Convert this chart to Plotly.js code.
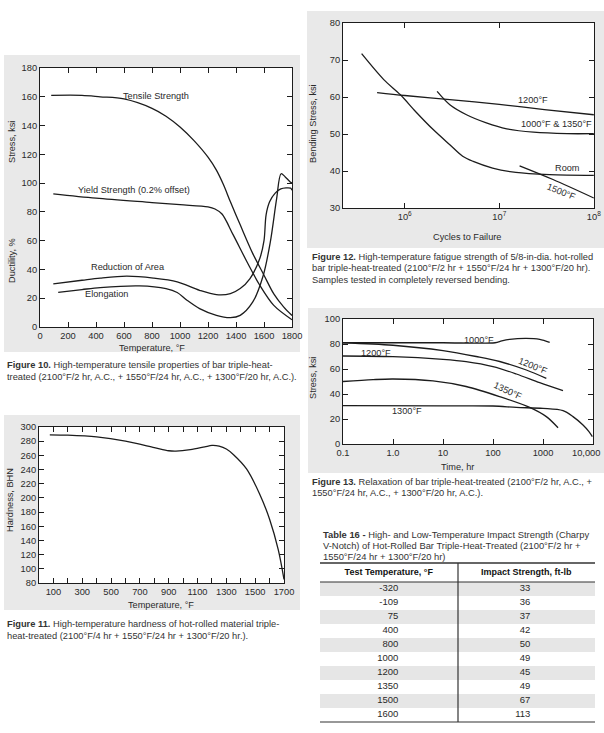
<!DOCTYPE html>
<html>
<head>
<meta charset="utf-8">
<script src="https://cdn.plot.ly/plotly-3.0.1.min.js"></script>
<style>html,body{margin:0;padding:0;background:#fff;}#chart{width:604px;height:733px;}</style>
</head>
<body>
<div id="chart"></div>
<script>
// ---------- Figure 10: tensile properties ----------
var f10TensileT = [80, 300, 430, 600, 800, 900, 1000, 1100, 1200, 1260, 1310, 1360, 1430, 1520, 1600, 1670, 1740, 1800];
var f10Tensile  = [161, 161, 160, 158.5, 152, 146.5, 139, 129.5, 118, 109, 99, 87, 71, 51, 36, 23, 14, 8];
var f10YieldT = [95, 400, 800, 1000, 1200, 1250, 1300, 1380, 1480, 1570, 1670, 1800];
var f10Yield  = [92.5, 89.5, 86.5, 85, 83.5, 82, 78.5, 64, 45, 29, 15, 5];
var f10RAT = [95, 300, 430, 620, 810, 980, 1140, 1260, 1360, 1430, 1500, 1570, 1600, 1615, 1640, 1680, 1720, 1790, 1800];
var f10RA  = [30, 32.5, 34, 35.3, 34, 31.4, 25.5, 22.5, 23.2, 26.7, 33.7, 47.6, 60, 78, 87, 93, 96, 96.5, 95];
var f10ElT = [130, 300, 430, 710, 900, 980, 1050, 1140, 1260, 1360, 1430, 1520, 1595, 1645, 1690, 1722, 1750, 1785, 1800];
var f10El  = [24, 26, 27.4, 28.6, 26.7, 24, 18.6, 12.8, 8.1, 6.5, 8.1, 17.4, 36, 59, 89, 106.5, 104.5, 101, 100];

// ---------- Figure 12: fatigue strength ----------
var f12RoomN = [3.5e5, 6e5, 9e5, 1.3e6, 2e6, 3e6, 4.1e6, 5.3e6, 8.5e6, 1.5e7, 3.4e7, 1e8];
var f12Room  = [71.7, 64.7, 60.6, 56.1, 51.2, 47.1, 44, 42.6, 40.8, 39.6, 39, 38.8];
var f12T1200N = [5.1e5, 1e6, 3e6, 1e7, 3e7, 1e8];
var f12T1200  = [61.2, 60.4, 59.3, 58, 56.6, 55.2];
var f12T1000N = [2.2e6, 3e6, 4.5e6, 7.3e6, 1.2e7, 2.3e7, 5.2e7, 1e8];
var f12T1000  = [61.5, 57.9, 55.2, 53, 51.4, 50.5, 50.1, 50.1];
var f12T1500N = [1.64e7, 3.7e7, 1e8];
var f12T1500  = [41.4, 37.7, 32.7];

// ---------- Figure 13: relaxation ----------
var f13T1000t = [0.1, 1, 10, 110, 150, 215, 460, 860, 1360];
var f13T1000  = [81, 81, 81, 81, 82.5, 83.7, 84.5, 83.7, 81.3];
var f13T1200at = [0.1, 1, 10, 46, 136, 464, 1166];
var f13T1200a  = [81, 79, 74.7, 70, 66, 59.2, 52.5];
var f13T1200bt = [0.1, 1, 10, 29, 100, 293, 858, 2512];
var f13T1200b  = [70.4, 69.9, 67.7, 65.9, 61.9, 56, 49.1, 42.7];
var f13T1350t = [0.1, 0.4, 1, 6.3, 29, 136, 541, 1166, 2000];
var f13T1350  = [50, 51.5, 52, 50.5, 46, 37.9, 29.3, 21.9, 13];
var f13T1300t = [0.1, 10, 100, 293, 1000, 2512, 3981, 6310, 8300, 9700];
var f13T1300  = [30.7, 30.5, 30.4, 29.3, 28.5, 26.7, 21.9, 15.2, 9.9, 5.9];
var f13TickVals = [0.1, 1, 10, 100, 1000];
var f13TickText = ['0.1', '1.0', '10', '100', '1000'];
var f13LastTick = 10000;
var f13LastTickText = '10,000';

// ---------- Figure 11: hardness ----------
var f11Temp = [75, 200, 400, 600, 800, 900, 950, 1050, 1150, 1200, 1250, 1300, 1350, 1440, 1530, 1600, 1660, 1700];
var f11BHN  = [289, 288.5, 286, 280, 271, 266.5, 266, 268, 272, 274, 273, 269, 261, 241, 206, 170, 127, 85];
var f11TickVals = [100, 300, 500, 700, 900, 1100, 1300, 1500, 1700];

// ---------- Table 16 ----------
var t16Header = ['Test Temperature, °F', 'Impact Strength, ft-lb'];
var t16Temp   = ['-320', '-109', '75', '400', '800', '1000', '1200', '1350', '1500', '1600'];
var t16Impact = ['33', '36', '37', '42', '50', '49', '45', '49', '67', '113'];

// ---------- helpers ----------
var W = 604, H = 733;
function px(x) { return x / W; }
function py(y) { return 1 - y / H; }
var FONT = 'Liberation Sans, Arial, Helvetica, sans-serif';
var INK = '#1c1c1c';
var TXT = '#2a2a2a';
var PANEL = '#e9e9e9';

function line(x, y, xa, ya) {
  return {type: 'scatter', mode: 'lines', x: x, y: y, xaxis: xa, yaxis: ya,
          line: {color: INK, width: 1.3, shape: 'spline', smoothing: 0.9},
          hoverinfo: 'skip', showlegend: false};
}
function ax(extra) {
  return Object.assign({
    showline: true, linecolor: INK, linewidth: 1, mirror: 'ticks',
    ticks: 'inside', ticklen: 5, tickwidth: 1, tickcolor: INK,
    showgrid: false, zeroline: false, fixedrange: true,
    tickfont: {family: FONT, size: 9.3, color: TXT}
  }, extra);
}

var traces = [
  line(f10TensileT, f10Tensile, 'x', 'y'),
  line(f10YieldT, f10Yield, 'x', 'y'),
  line(f10RAT, f10RA, 'x', 'y'),
  line(f10ElT, f10El, 'x', 'y'),
  line(f12RoomN, f12Room, 'x2', 'y2'),
  line(f12T1200N, f12T1200, 'x2', 'y2'),
  line(f12T1000N, f12T1000, 'x2', 'y2'),
  line(f12T1500N, f12T1500, 'x2', 'y2'),
  line(f13T1000t, f13T1000, 'x3', 'y3'),
  line(f13T1200at, f13T1200a, 'x3', 'y3'),
  line(f13T1200bt, f13T1200b, 'x3', 'y3'),
  line(f13T1350t, f13T1350, 'x3', 'y3'),
  line(f13T1300t, f13T1300, 'x3', 'y3'),
  line(f11Temp, f11BHN, 'x4', 'y4')
];

// ---------- table drawn on a hidden cartesian subplot (x5/y5) ----------
var rowIdx = t16Temp.map(function (_, i) { return i; });
var shadedRows = rowIdx.filter(function (i) { return i % 2 === 0; });
var HEADER_ROWS = 19 / 14;          // header row height in body-row units
traces.push({
  type: 'bar', orientation: 'h', xaxis: 'x5', yaxis: 'y5',
  y: shadedRows, x: shadedRows.map(function () { return 2; }), base: 0, width: 1,
  marker: {color: '#e6e6e6', line: {width: 0}}, hoverinfo: 'skip', showlegend: false
});
traces.push({
  type: 'scatter', mode: 'text', xaxis: 'x5', yaxis: 'y5', cliponaxis: false,
  x: [0.5, 1.5], y: [-0.5 - HEADER_ROWS / 2, -0.5 - HEADER_ROWS / 2],
  text: t16Header.map(function (h) { return '<b>' + h + '</b>'; }),
  textposition: 'middle center', textfont: {family: FONT, size: 9, color: '#111'},
  hoverinfo: 'skip', showlegend: false
});
traces.push({
  type: 'scatter', mode: 'text', xaxis: 'x5', yaxis: 'y5', cliponaxis: false,
  x: rowIdx.map(function () { return 0.57; }), y: rowIdx, text: t16Temp,
  textposition: 'middle left', textfont: {family: FONT, size: 9.5, color: TXT},
  hoverinfo: 'skip', showlegend: false
});
traces.push({
  type: 'scatter', mode: 'text', xaxis: 'x5', yaxis: 'y5', cliponaxis: false,
  x: rowIdx.map(function () { return 1.53; }), y: rowIdx, text: t16Impact,
  textposition: 'middle left', textfont: {family: FONT, size: 9.5, color: TXT},
  hoverinfo: 'skip', showlegend: false
});

function ann(text, x, y, xref, yref, opts) {
  return Object.assign({text: text, x: x, y: y, xref: xref, yref: yref, showarrow: false,
    font: {family: FONT, size: 9.2, color: TXT}, xanchor: 'center', yanchor: 'middle'}, opts || {});
}
// caption: one annotation per line, lines centred at y0, y0+step, ...
function cap(lines, x, y0, step, size) {
  return lines.map(function (t, i) {
    return ann(t, px(x), py(y0 + i * step), 'paper', 'paper',
      {xanchor: 'left', yanchor: 'middle', align: 'left', font: {family: FONT, size: size || 9.3, color: '#333'}});
  });
}

var annotations = [
  // Figure 10
  ann('Tensile Strength', 826, 160.5, 'x', 'y'),
  ann('Yield Strength (0.2% offset)', 669, 95.2, 'x', 'y'),
  ann('Reduction of Area', 626, 41.9, 'x', 'y'),
  ann('Elongation', 478, 22.7, 'x', 'y'),
  ann('Stress, ksi', px(12), py(142), 'paper', 'paper', {textangle: -90}),
  ann('Ductility, %', px(12), py(261), 'paper', 'paper', {textangle: -90}),
  ann('Temperature, °F', px(152), py(348), 'paper', 'paper'),
  // Figure 12
  ann('1200°F', 7.357, 59.1, 'x2', 'y2'),
  ann('1000°F &amp; 1350°F', 7.608, 52.8, 'x2', 'y2'),
  ann('Room', 7.717, 40.7, 'x2', 'y2'),
  ann('1500°F', 7.657, 34.2, 'x2', 'y2', {textangle: 22}),
  ann('Bending Stress, ksi', px(313), py(124), 'paper', 'paper', {textangle: -90}),
  ann('Cycles to Failure', px(467), py(237), 'paper', 'paper'),
  // Figure 13
  ann('1000°F', 1.713, 83.2, 'x3', 'y3'),
  ann('1200°F', -0.333, 73, 'x3', 'y3'),
  ann('1200°F', 2.8, 62.7, 'x3', 'y3', {textangle: 22}),
  ann('1350°F', 2.3, 42.7, 'x3', 'y3', {textangle: 25}),
  ann('1300°F', 0.28, 26.4, 'x3', 'y3'),
  ann(f13LastTickText, Math.log10(f13LastTick), py(453), 'x3', 'paper',
      {xanchor: 'right', xshift: 9, font: {family: FONT, size: 9.3, color: TXT}}),
  ann('Stress, ksi', px(313), py(378), 'paper', 'paper', {textangle: -90}),
  ann('Time, hr', px(457), py(467), 'paper', 'paper'),
  // Figure 11
  ann('Hardness, BHN', px(10), py(500), 'paper', 'paper', {textangle: -90}),
  ann('Temperature, °F', px(161), py(605), 'paper', 'paper')
].concat(
  cap(['<b>Figure 10.</b> High-temperature tensile properties of bar triple-heat-',
       'treated (2100°F/2 hr, A.C., + 1550°F/24 hr, A.C., + 1300°F/20 hr, A.C.).'], 5, 365, 12),
  cap(['<b>Figure 12.</b> High-temperature fatigue strength of 5/8-in-dia. hot-rolled',
       'bar triple-heat-treated (2100°F/2 hr + 1550°F/24 hr + 1300°F/20 hr).',
       'Samples tested in completely reversed bending.'], 310, 257, 11.3),
  cap(['<b>Figure 13.</b> Relaxation of bar triple-heat-treated (2100°F/2 hr, A.C., +',
       '1550°F/24 hr, A.C., + 1300°F/20 hr, A.C.).'], 310, 482, 11),
  cap(['<b>Figure 11.</b> High-temperature hardness of hot-rolled material triple-',
       'heat-treated (2100°F/4 hr + 1550°F/24 hr + 1300°F/20 hr.).'], 5, 624, 11.5),
  cap(['<b>Table 16 -</b> High- and Low-Temperature Impact Strength (Charpy',
       'V-Notch) of Hot-Rolled Bar Triple-Heat-Treated (2100°F/2 hr +',
       '1550°F/24 hr + 1300°F/20 hr)'], 321, 534, 11, 9.4)
);

function panel(x0, y0, x1, y1) {
  return {type: 'rect', xref: 'paper', yref: 'paper', x0: px(x0), x1: px(x1), y0: py(y1), y1: py(y0),
          fillcolor: PANEL, line: {width: 0}, layer: 'below'};
}
function plotBg(xa, ya) {
  return {type: 'rect', xref: xa + ' domain', yref: ya + ' domain', x0: 0, x1: 1, y0: 0, y1: 1,
          fillcolor: '#ffffff', line: {width: 0}, layer: 'below'};
}
function rule(x0, y0, x1, y1, w) {
  return {type: 'line', xref: 'paper', yref: 'paper', x0: px(x0), x1: px(x1), y0: py(y0), y1: py(y1),
          line: {color: '#333', width: w}, layer: 'above'};
}

var shapes = [
  panel(4, 55, 300, 352),
  panel(4, 415, 300, 610),
  panel(307, 11, 604, 248),
  panel(308, 308, 604, 473),
  plotBg('x', 'y'), plotBg('x2', 'y2'), plotBg('x3', 'y3'), plotBg('x4', 'y4'),
  rule(320, 563, 595, 563, 1.6),
  rule(320, 582, 595, 582, 1.2),
  rule(320, 722, 595, 722, 1.2),
  rule(458, 563, 458, 722, 1.2)
];

var hidden = {visible: false, fixedrange: true, showgrid: false, zeroline: false};

var layout = {
  width: W, height: H,
  margin: {l: 0, r: 0, t: 0, b: 0, pad: 0},
  paper_bgcolor: '#ffffff', plot_bgcolor: 'rgba(0,0,0,0)',
  showlegend: false,
  font: {family: FONT, size: 9, color: TXT},
  xaxis: ax({domain: [px(40), px(292)], range: [0, 1800], dtick: 200, tick0: 0, anchor: 'y'}),
  yaxis: ax({domain: [py(327), py(68)], range: [0, 180], dtick: 20, tick0: 0, anchor: 'x'}),
  xaxis2: ax({domain: [px(343), px(594)], type: 'log', range: [5.347, 8.002], anchor: 'y2',
              tickvals: [1e6, 1e7, 1e8], ticktext: ['10<sup>6</sup>', '10<sup>7</sup>', '10<sup>8</sup>']}),
  yaxis2: ax({domain: [py(208), py(23)], range: [30, 80], dtick: 10, tick0: 30, anchor: 'x2'}),
  xaxis3: ax({domain: [px(343), px(593)], type: 'log', range: [-1, 4], anchor: 'y3',
              tickvals: f13TickVals, ticktext: f13TickText}),
  yaxis3: ax({domain: [py(444), py(319)], range: [0, 100], dtick: 20, tick0: 0, anchor: 'x3'}),
  xaxis4: ax({domain: [px(39), px(284)], range: [0, 1700], anchor: 'y4',
              tickvals: f11TickVals, minor: {dtick: 100, ticks: 'inside', ticklen: 5, tickcolor: INK, showgrid: false}}),
  yaxis4: ax({domain: [py(583), py(427)], range: [80, 300], dtick: 20, tick0: 80, anchor: 'x4'}),
  xaxis5: Object.assign({domain: [px(320), px(595)], range: [0, 2], anchor: 'y5'}, hidden),
  yaxis5: Object.assign({domain: [py(722), py(563)], range: [9.5, -0.5 - HEADER_ROWS], anchor: 'x5'}, hidden),
  annotations: annotations,
  shapes: shapes
};

Plotly.newPlot('chart', traces, layout, {staticPlot: true, displayModeBar: false});
</script>
</body>
</html>
